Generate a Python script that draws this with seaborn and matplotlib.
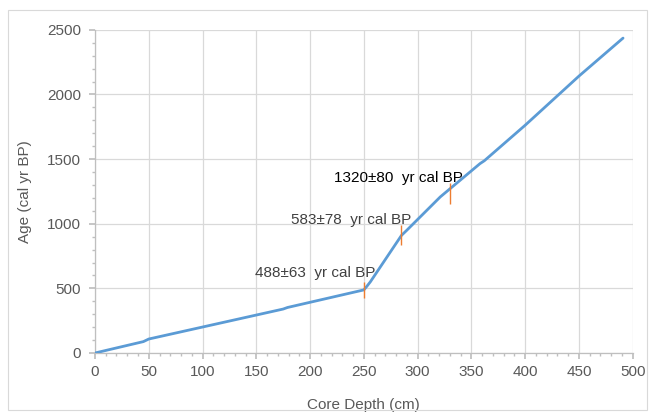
import pandas as pd
import seaborn as sns
import matplotlib.pyplot as plt
from matplotlib.patches import Rectangle
from matplotlib.ticker import MultipleLocator

# age-depth model
depth = [0, 45, 50, 175, 179, 250, 253, 256, 285, 290, 321, 358, 362, 400, 450, 491]
age = [0, 88, 108, 340, 352, 488, 518, 550, 910, 950, 1207, 1465, 1487, 1762, 2142, 2436]

# dated samples
date_depth = [250, 285, 330]
date_age = [488, 910, 1235]
date_err = [63, 78, 80]
date_text = ['488±63  yr cal BP', '583±78  yr cal BP', '1320±80  yr cal BP']
date_color = ['#404040', '#404040', '#000000']

df = pd.DataFrame({'depth': depth, 'age': age})

sns.set_theme(style="white")
plt.rcParams['font.family'] = ['Liberation Sans', 'DejaVu Sans']

fig = plt.figure(figsize=(6.55, 4.17), dpi=100)
ax = fig.add_axes([0.145, 0.1535, 0.821, 0.775])

sns.lineplot(data=df, x='depth', y='age', color='#5B9BD5', linewidth=2, ax=ax, zorder=3)
ax.errorbar(date_depth, date_age, yerr=date_err, fmt='none', ecolor='#ED7D31',
            elinewidth=1, capsize=0, zorder=4)

# label placement (right end / vertical centre, in data units)
label_x = [261, 294.5, 342.5]
label_y = [620, 1030, 1350]
for lx, ly, t, c in zip(label_x, label_y, date_text, date_color):
    ax.text(lx, ly, t, ha='right', va='center', fontsize=11, color=c, zorder=5)

ax.set_xlim(0, 500)
ax.set_ylim(0, 2500)
ax.xaxis.set_major_locator(MultipleLocator(50))
ax.xaxis.set_minor_locator(MultipleLocator(10))
ax.yaxis.set_major_locator(MultipleLocator(500))
ax.yaxis.set_minor_locator(MultipleLocator(100))
ax.grid(True, which='major', color='#D9D9D9', linewidth=0.9)

for s in ['top', 'right']:
    ax.spines[s].set_visible(False)
for s in ['left', 'bottom']:
    ax.spines[s].set_color('#BFBFBF')
    ax.spines[s].set_linewidth(0.9)

ax.tick_params(which='major', direction='out', length=4, color='#BFBFBF',
               labelsize=11, labelcolor='#595959', bottom=True, left=True)
ax.tick_params(axis='y', which='major', pad=6)
ax.tick_params(axis='x', which='major', pad=5)
ax.tick_params(which='minor', direction='out', length=2.5, color='#BFBFBF',
               bottom=True, left=True)

ax.set_xlabel('Core Depth (cm)', fontsize=11, color='#595959', labelpad=13)
ax.set_ylabel('Age (cal yr BP)', fontsize=11, color='#595959', labelpad=11)

fig.patches.append(Rectangle((8 / 655, 7 / 417), 639 / 655, 400 / 417,
                             transform=fig.transFigure, fill=False,
                             edgecolor='#D9D9D9', linewidth=0.8))

fig.savefig('out.png', dpi=100)
